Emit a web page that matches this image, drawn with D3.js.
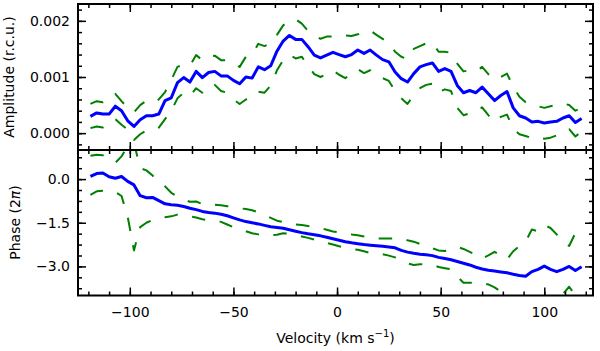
<!DOCTYPE html>
<html>
<head>
<meta charset="utf-8">
<script src="https://cdn.jsdelivr.net/npm/d3@7"></script>
<style>
  body { margin: 0; background: #fff; }
  svg { display: block; font-family: "DejaVu Sans", sans-serif; }
</style>
</head>
<body>
<svg id="chart" width="600" height="351"></svg>
<script>
// velocity grid (km/s)
const velocity = [-119,-116,-113,-110,-107,-104,-101,-98,-95,-92,-89,-86,-83,-80,-77,-74,-71,-68,-65,-62,
  -59,-56,-53,-50,-47,-44,-41,-38,-35,-32,-29,-26,-23,-20,-17,-14,-11,-8,-5,-2,
  1,4,7,10,13,16,19,22,25,28,31,34,37,40,43,46,49,52,55,58,
  61,64,67,70,73,76,79,82,85,88,91,94,97,100,103,106,109,112,115,118];

// amplitude (r.c.u.) and its error envelope
const amplitude = [0.00030,0.00036,0.00034,0.00034,0.00048,0.00040,0.00022,0.00012,0.00024,0.00031,
  0.00031,0.00034,0.00058,0.00063,0.00090,0.00099,0.00091,0.00110,0.00099,0.00108,
  0.00110,0.00102,0.00102,0.00094,0.00088,0.00100,0.00098,0.00118,0.00113,0.00120,
  0.00146,0.00164,0.00174,0.00167,0.00167,0.00154,0.00139,0.00134,0.00139,0.00144,
  0.00140,0.00136,0.00140,0.00148,0.00142,0.00148,0.00139,0.00131,0.00127,0.00109,
  0.00097,0.00091,0.00106,0.00118,0.00122,0.00125,0.00110,0.00115,0.00110,0.00085,
  0.00072,0.00076,0.00072,0.00082,0.00070,0.00058,0.00067,0.00074,0.00045,0.00031,
  0.00027,0.00020,0.00021,0.00018,0.00020,0.00021,0.00027,0.00031,0.00019,0.00026];
const ampUpper = [0.00052,0.00057,0.00055,0.00060,0.00070,0.00057,0.00045,0.00037,0.00050,0.00058,
  0.00055,0.00060,0.00073,0.00095,0.00118,0.00122,0.00120,0.00139,0.00130,0.00136,
  0.00138,0.00130,0.00130,0.00124,0.00118,0.00136,0.00140,0.00159,0.00155,0.00160,
  0.00175,0.00192,0.00200,0.00203,0.00195,0.00182,0.00174,0.00168,0.00172,0.00172,
  0.00174,0.00174,0.00173,0.00176,0.00180,0.00183,0.00175,0.00168,0.00161,0.00145,
  0.00136,0.00132,0.00150,0.00155,0.00160,0.00161,0.00145,0.00145,0.00143,0.00124,
  0.00110,0.00112,0.00110,0.00118,0.00105,0.00095,0.00100,0.00106,0.00083,0.00065,
  0.00055,0.00050,0.00048,0.00045,0.00048,0.00050,0.00053,0.00050,0.00040,0.00045];
const ampLower = [0.00009,0.00012,0.00010,0.00018,0.00025,0.00015,0.00006,-0.00012,-0.00002,0.00005,
  0.00005,0.00010,0.00025,0.00040,0.00062,0.00072,0.00066,0.00080,0.00072,0.00085,
  0.00086,0.00075,0.00072,0.00060,0.00052,0.00060,0.00062,0.00074,0.00072,0.00085,
  0.00112,0.00130,0.00140,0.00133,0.00136,0.00120,0.00105,0.00100,0.00105,0.00112,
  0.00104,0.00098,0.00106,0.00114,0.00107,0.00112,0.00102,0.00098,0.00093,0.00075,
  0.00062,0.00052,0.00068,0.00080,0.00086,0.00088,0.00073,0.00078,0.00075,0.00045,
  0.00032,0.00035,0.00037,0.00046,0.00032,0.00020,0.00029,0.00033,0.00008,-0.00002,
  -0.00005,-0.00009,-0.00007,-0.00010,-0.00008,-0.00004,0.00002,0.00007,-0.00006,0.00003];

// phase (2 pi) and its error envelope
const phase = [0.09,0.19,0.21,0.08,0.03,0.09,-0.08,-0.20,-0.57,-0.64,
  -0.63,-0.74,-0.85,-0.88,-0.90,-0.94,-1.00,-1.05,-1.11,-1.15,
  -1.17,-1.21,-1.26,-1.33,-1.40,-1.46,-1.50,-1.54,-1.59,-1.64,
  -1.66,-1.69,-1.74,-1.79,-1.84,-1.88,-1.91,-1.95,-2.00,-2.05,
  -2.10,-2.15,-2.19,-2.22,-2.25,-2.27,-2.29,-2.31,-2.33,-2.36,
  -2.45,-2.51,-2.55,-2.58,-2.60,-2.63,-2.69,-2.73,-2.77,-2.83,
  -2.89,-2.95,-3.03,-3.09,-3.13,-3.16,-3.19,-3.22,-3.27,-3.31,
  -3.34,-3.18,-3.10,-2.99,-3.10,-3.18,-3.10,-3.00,-3.14,-3.01];
const phaseUpper = [0.80,0.84,0.82,0.68,0.56,0.78,1.15,1.25,0.38,0.30,
  0.12,-0.08,-0.25,-0.47,-0.60,-0.70,-0.78,-0.77,-0.86,-0.88,
  -0.88,-0.90,-0.93,-0.97,-1.00,-1.03,-1.07,-1.14,-1.23,-1.33,
  -1.43,-1.48,-1.54,-1.56,-1.58,-1.61,-1.64,-1.68,-1.74,-1.80,
  -1.83,-1.86,-1.90,-1.93,-1.97,-2.00,-2.04,-2.04,-2.04,-2.04,
  -2.04,-2.10,-2.15,-2.23,-2.32,-2.38,-2.45,-2.47,-2.40,-2.33,
  -2.40,-2.50,-2.60,-2.73,-2.62,-2.50,-2.62,-2.76,-2.48,-2.30,
  -2.15,-1.73,-1.80,-1.58,-1.68,-1.90,-2.15,-2.30,-1.85,-1.50];
const phaseLower = [-0.54,-0.42,-0.40,-0.42,-0.44,-0.58,-1.30,-2.45,-1.65,-1.50,
  -1.40,-1.35,-1.31,-1.28,-1.22,-1.24,-1.28,-1.32,-1.38,-1.41,
  -1.42,-1.47,-1.56,-1.65,-1.72,-1.79,-1.86,-1.90,-1.92,-1.93,
  -1.91,-1.86,-1.88,-1.93,-1.97,-2.02,-2.08,-2.14,-2.19,-2.25,
  -2.31,-2.36,-2.40,-2.43,-2.48,-2.54,-2.56,-2.58,-2.63,-2.69,
  -2.80,-2.90,-2.95,-2.93,-2.92,-2.95,-3.02,-3.06,-3.10,-3.35,
  -3.56,-3.56,-3.56,-3.58,-3.62,-3.72,-3.87,-3.90,-4.05,-4.15,
  -4.10,-4.20,-4.15,-4.10,-4.05,-4.05,-3.95,-3.70,-4.00,-4.15];

// ticks
const xMajorTicks = [-100, -50, 0, 50, 100];
const ampTicks = [0, 0.001, 0.002];
const phaseTicks = [0, -1.5, -3];

const svg = d3.select('#chart');

const left = 78, right = 593;
const x = d3.scaleLinear().domain([-125, 123.5]).range([left, right]);
const xMinor = d3.range(-12, 13).map(i => i * 10);

const yAmp = d3.scaleLinear().domain([-0.0003, 0.0023]).range([150, 4]);
const yPh = d3.scaleLinear().domain([-4, 1]).range([295.5, 150]);

function panel(id, y, top, bottom, lines, yMajor, yMinor, yFmt, showX) {
  const g = svg.append('g');

  g.append('clipPath').attr('id', id)
    .append('rect')
    .attr('x', left).attr('y', top)
    .attr('width', right - left).attr('height', bottom - top);

  const line = d3.line()
    .x((d, i) => x(velocity[i]))
    .y(d => y(d));

  const lg = g.append('g').attr('clip-path', `url(#${id})`);
  lines.forEach(l => {
    lg.append('path')
      .attr('d', line(l.data))
      .attr('fill', 'none')
      .attr('stroke', l.color)
      .attr('stroke-width', l.width)
      .attr('stroke-dasharray', l.dash || null)
      .attr('stroke-linejoin', 'round');
  });

  // ticks pointing inward on all four sides
  const axes = [
    [d3.axisBottom(x), `translate(0,${bottom})`, xMinor, 4, false],
    [d3.axisBottom(x), `translate(0,${bottom})`, xMajorTicks, 8, showX],
    [d3.axisTop(x), `translate(0,${top})`, xMinor, 4, false],
    [d3.axisTop(x), `translate(0,${top})`, xMajorTicks, 8, false],
    [d3.axisLeft(y), `translate(${left},0)`, yMinor, 4, false],
    [d3.axisLeft(y), `translate(${left},0)`, yMajor, 8, true],
    [d3.axisRight(y), `translate(${right},0)`, yMinor, 4, false],
    [d3.axisRight(y), `translate(${right},0)`, yMajor, 8, false]
  ];
  axes.forEach(([ax, tr, vals, size, labels], k) => {
    const isY = k >= 4;
    ax.tickValues(vals).tickSize(-size)
      .tickPadding(isY ? 8 : 12)
      .tickFormat(labels ? (isY ? yFmt : d3.format('d')) : '');
    const a = g.append('g').attr('transform', tr).call(ax);
    a.select('.domain').remove();
    a.selectAll('line').attr('stroke', '#000').attr('stroke-width', 1.5);
    a.selectAll('text')
      .attr('fill', '#000')
      .style('font-size', '14px')
      .style('font-family', '"DejaVu Sans", sans-serif');
  });

  g.append('rect')
    .attr('x', left).attr('y', top)
    .attr('width', right - left).attr('height', bottom - top)
    .attr('fill', 'none')
    .attr('stroke', '#000')
    .attr('stroke-width', 2);
}

const green = '#008000', blue = '#0000ff', dash = '13.5,14.5';

panel('clipAmp', yAmp, 4, 150, [
  { data: ampUpper, color: green, width: 2, dash: dash },
  { data: ampLower, color: green, width: 2, dash: dash },
  { data: amplitude, color: blue, width: 3 }
], ampTicks, d3.range(-1, 12).map(i => i * 0.0002), d3.format('.3f'), false);

panel('clipPh', yPh, 150, 295.5, [
  { data: phaseUpper, color: green, width: 2, dash: dash },
  { data: phaseLower, color: green, width: 2, dash: dash },
  { data: phase, color: blue, width: 3 }
], phaseTicks, d3.range(-10, 3).map(i => i * 0.375), d3.format('.1f'), true);

// axis titles
svg.append('text')
  .attr('transform', 'translate(14,77) rotate(-90)')
  .attr('text-anchor', 'middle')
  .style('font-size', '14px')
  .text('Amplitude (r.c.u.)');

const ph = svg.append('text')
  .attr('transform', 'translate(20,222.5) rotate(-90)')
  .attr('text-anchor', 'middle')
  .style('font-size', '14px');
ph.append('tspan').text('Phase (2');
ph.append('tspan').style('font-style', 'italic').text('π');
ph.append('tspan').text(')');

const xl = svg.append('text')
  .attr('x', (left + right) / 2)
  .attr('y', 343)
  .attr('text-anchor', 'middle')
  .style('font-size', '14px');
xl.append('tspan').text('Velocity (km s');
xl.append('tspan').attr('dy', -6).style('font-size', '10px').text('−1');
xl.append('tspan').attr('dy', 6).text(')');
</script>
</body>
</html>
